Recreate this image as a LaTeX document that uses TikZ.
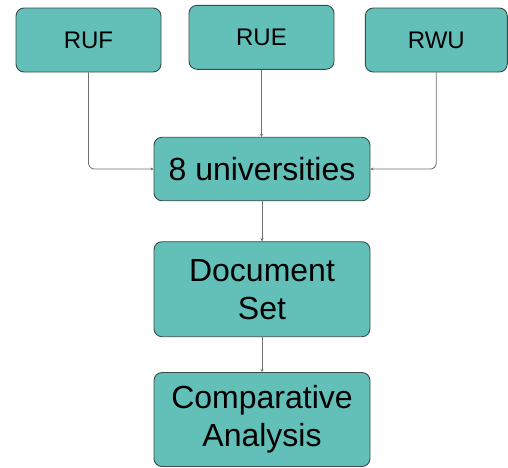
\documentclass[tikz,border=0pt]{standalone}
\usepackage{fontspec}
\setmainfont{Liberation Sans}
\usetikzlibrary{arrows.meta}
\definecolor{boxfill}{HTML}{63C0B9}
\definecolor{boxdraw}{HTML}{3A4A48}
\definecolor{linecol}{HTML}{6E6E6E}
\begin{document}
\begin{tikzpicture}[x=1pt,y=-1pt,
  box/.style={draw=boxdraw, line width=0.9pt, fill=boxfill, rounded corners=8pt, inner sep=0pt, align=center},
  smallbox/.style={box, font=\fontsize{24}{28}\selectfont},
  bigbox/.style={box, font=\fontsize{32}{38}\selectfont, minimum width=216pt},
  conn/.style={draw=linecol, line width=0.8pt, rounded corners=6pt, -{Stealth[length=3pt,width=3pt]}}
]
\useasboundingbox (0,0) rectangle (508,467);
\node[smallbox, minimum width=145pt, minimum height=64pt] (ruf) at (88.5,40) {RUF};
\node[smallbox, minimum width=145pt, minimum height=64pt] (rue) at (261.5,37.3) {RUE};
\node[smallbox, minimum width=142pt, minimum height=64pt] (rwu) at (436.3,40) {RWU};
\node[bigbox, minimum height=63.5pt] (uni) at (262,169) {8 universities};
\node[bigbox, minimum height=95pt] (doc) at (262,289.2) {Document\\Set};
\node[bigbox, minimum height=94pt] (comp) at (262,419.5) {Comparative\\Analysis};
\draw[conn] (ruf.south) |- (uni.west);
\draw[conn] (rue.south) -- (rue.south |- uni.north);
\draw[conn] (rwu.south) |- (uni.east);
\draw[conn] (uni.south) -- (doc.north);
\draw[conn] (doc.south) -- (comp.north);
\end{tikzpicture}
\end{document}
